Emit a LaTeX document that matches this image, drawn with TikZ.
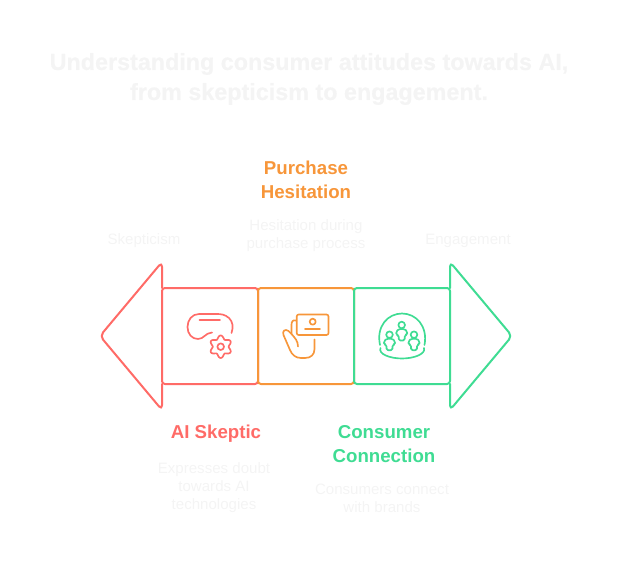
\documentclass[tikz,border=0pt]{standalone}
\usepackage{fontspec}
\setmainfont{Liberation Sans}
\newfontfamily\titlefont[BoldFont={Liberation Sans Bold},BoldFeatures={FakeBold=0.6}]{Liberation Sans}
\definecolor{redc}{HTML}{FF6B67}
\definecolor{orc}{HTML}{F7963A}
\definecolor{grc}{HTML}{3FDC93}
\definecolor{faint}{HTML}{F4F4F4}
\tikzset{
  outline/.style={line width=1.5pt,line join=round,line cap=round,rounded corners=2.2pt},
  tipline/.style={line width=1.5pt,line join=round,line cap=round,rounded corners=3.5pt},
  iconline/.style={line width=1.25pt,line join=round,line cap=round},
  titletext/.style={font=\fontsize{17.5pt}{22.5pt}\selectfont\titlefont\bfseries,text=faint,align=center,inner sep=0pt},
  headtext/.style={font=\fontsize{14pt}{18pt}\selectfont\bfseries,align=center,inner sep=0pt},
  desctext/.style={font=\fontsize{11.3pt}{13.5pt}\selectfont,text=faint,align=center,inner sep=0pt},
}
\newcommand{\personicon}[2]{%
  \draw[iconline,grc] (#1,#2) circle (3.3);
  \draw[iconline,grc,rounded corners=1.2pt] (#1-3,#2+4) -- (#1+3,#2+4) -- (#1+5.5,#2+6.5) -- (#1+5.5,#2+10) -- (#1+3,#2+10) -- (#1+3,#2+15.5) -- (#1-3,#2+15.5) -- (#1-3,#2+10) -- (#1-5.5,#2+10) -- (#1-5.5,#2+6.5) -- cycle;
}
\begin{document}
\begin{tikzpicture}[x=0.75pt,y=-0.75pt]
\useasboundingbox (0,0) rectangle (624,588);
% title
\node[titletext] (title) at (309,79) {Understanding consumer attitudes towards AI,\\from skepticism to engagement.};
% arrows and boxes
\draw[tipline,redc] (162,288) -- (162,262) -- (100,336) -- (162,410) -- (162,384);
\draw[outline,redc] (162,288) -- (258,288) -- (258,384) -- (162,384) -- cycle;
\draw[tipline,grc] (450,288) -- (450,262) -- (512,336) -- (450,410) -- (450,384);
\draw[outline,orc] (258,288) rectangle (354,384);
\draw[outline,grc] (450,288) -- (354,288) -- (354,384) -- (450,384) -- cycle;
% headset icon
\draw[iconline,redc] (231.5,333) .. controls (233.5,327) and (233,322) .. (229,318) .. controls (225,314.5) and (221,314) .. (217,314) -- (199,314) .. controls (192,314) and (187.5,320) .. (187.5,327) .. controls (187.5,334) and (192,339) .. (198,339) .. controls (204,339) and (205,333) .. (212,332.5);
\draw[iconline,redc] (199.5,320) -- (220,320);
\draw[iconline,redc] plot[samples=73,domain=0:360,smooth] ({220.7+(9.6-1.7*cos(6*\x))*cos(\x)},{346.7+(9.6-1.7*cos(6*\x))*sin(\x)});
\draw[iconline,redc] (220.7,346.7) circle (3.3);
% hand icon
\draw[iconline,orc,rounded corners=1.5pt] (296.7,314.5) rectangle (328.5,335);
\draw[iconline,orc] (312.7,321.7) circle (3);
\draw[iconline,orc] (305,329) -- (320,329);
\draw[iconline,orc] (296,320.5) .. controls (292.5,319.5) and (291.5,322) .. (291.5,325) -- (291.5,334);
\draw[iconline,orc] (298,346.5) .. controls (298,341) and (295,338) .. (291.5,334) -- (288.5,331) .. controls (285,328.5) and (282,331) .. (283.5,335) -- (290,350) .. controls (292,355) and (296,358) .. (301,358) -- (305,358) .. controls (311,358) and (314.5,354.5) .. (314.5,349) -- (314.5,339.5);
% people icon
\draw[iconline,grc] (380,345) .. controls (376,326) and (388,313.5) .. (402,313.5) .. controls (416,313.5) and (428,326) .. (424.5,345);
\draw[iconline,grc] (380.5,348) .. controls (378,354) and (390,358.5) .. (402,358.5) .. controls (414,358.5) and (426,354) .. (424,348);
\personicon{401.7}{325}
\personicon{389.5}{334.7}
\personicon{414}{334.7}
% texts
\node[headtext,text=orc] (purchase) at (306,180) {Purchase\\Hesitation};
\node[desctext] (purchasedesc) at (306,236) {Hesitation during\\purchase process};
\node[desctext] (skep) at (144,240.5) {Skepticism};
\node[desctext] (enga) at (468,240.5) {Engagement};
\node[headtext,text=redc] (aiskeptic) at (216,433.5) {AI Skeptic};
\node[desctext] (aidesc) at (214,488) {Expresses doubt\\towards AI\\technologies};
\node[headtext,text=grc] (consumer) at (384,444) {Consumer\\Connection};
\node[desctext] (consdesc) at (382,498.5) {Consumers connect\\with brands};
\end{tikzpicture}
\end{document}
